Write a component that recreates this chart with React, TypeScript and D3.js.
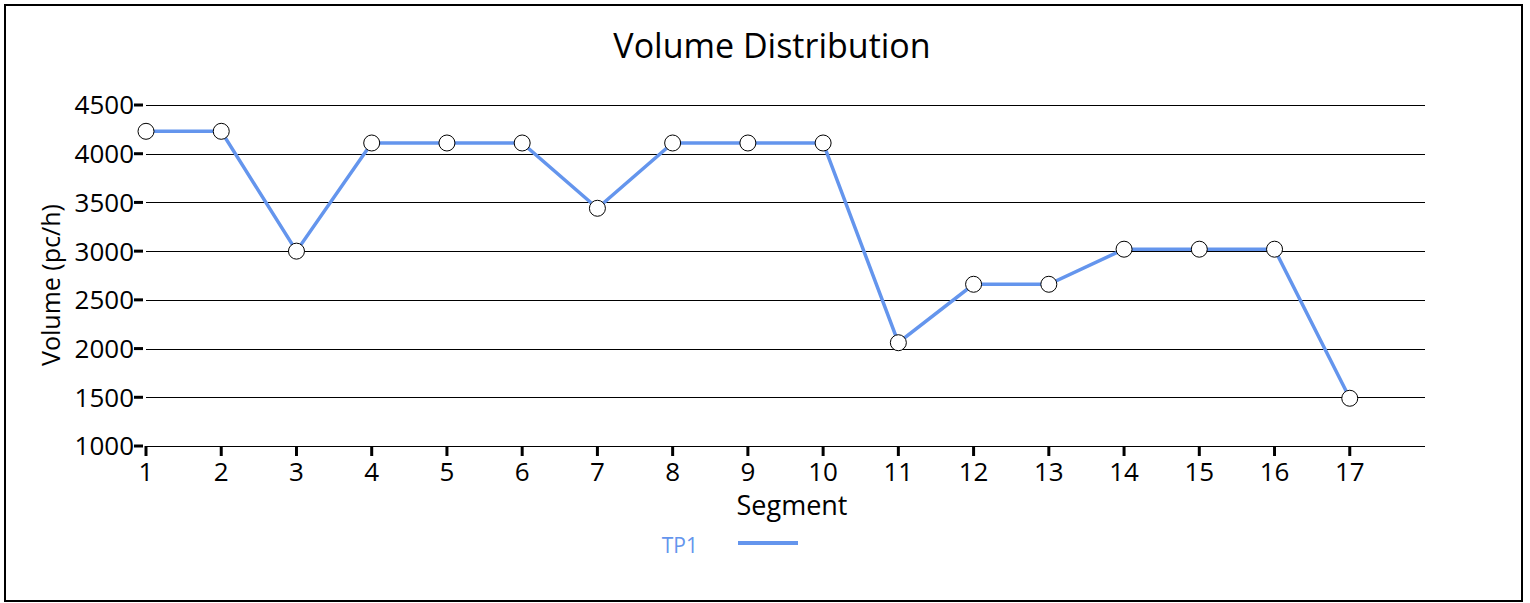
import * as d3 from "d3";

const segments = [1, 2, 3, 4, 5, 6, 7, 8, 9, 10, 11, 12, 13, 14, 15, 16, 17];
const tp1Volumes = [4230, 4230, 3000, 4110, 4110, 4110, 3440, 4110, 4110, 4110, 2060, 2660, 2660, 3020, 3020, 3020, 1490];
const yTicks = [1000, 1500, 2000, 2500, 3000, 3500, 4000, 4500];
const seriesName = "TP1";

const W = 1530;
const H = 603;
const margin = { top: 105, right: 105, bottom: 157, left: 146 };
const FONT = "'Open Sans', 'Noto Sans', sans-serif";
const BLUE = "#6495ED";

export default function App() {
  const x = d3.scaleLinear().domain([1, 18]).range([margin.left, W - margin.right]);
  const y = d3.scaleLinear().domain([1000, 4500]).range([H - margin.bottom, margin.top]);

  const line = d3
    .line<number>()
    .x((_, i) => x(segments[i]))
    .y((d) => y(d));

  const x0 = x(1);
  const x1 = x(18);
  const yBase = y(1000);

  return (
    <svg
      width={W}
      height={H}
      style={{ position: "absolute", left: 0, top: 0, fontFamily: FONT }}
    >
      <rect x={0} y={0} width={W} height={H} fill="#fff" />
      <rect x={5} y={5} width={1517} height={596} fill="none" stroke="#000" strokeWidth={2} />

      <text x={772} y={58} textAnchor="middle" fontSize={34} fill="#000">
        Volume Distribution
      </text>

      {/* grid + y ticks */}
      {yTicks.map((t) => (
        <g key={t}>
          <line x1={x0} x2={x1} y1={Math.round(y(t)) + 0.5} y2={Math.round(y(t)) + 0.5} stroke="#000" strokeWidth={1} />
          <line x1={x0 - 12} x2={x0 - 3} y1={y(t)} y2={y(t)} stroke="#000" strokeWidth={3} />
          <text x={x0 - 12} y={y(t)} dy="0.36em" textAnchor="end" fontSize={26} fill="#000">
            {t}
          </text>
        </g>
      ))}

      {/* x ticks */}
      {segments.map((s) => (
        <g key={s}>
          <line x1={x(s)} x2={x(s)} y1={yBase} y2={yBase + 10} stroke="#000" strokeWidth={3} />
          <text x={x(s)} y={yBase + 35} textAnchor="middle" fontSize={26} fill="#000">
            {s}
          </text>
        </g>
      ))}

      <text x={792} y={515} textAnchor="middle" fontSize={27} fill="#000">
        Segment
      </text>
      <text
        transform={`translate(60,285) rotate(-90)`}
        textAnchor="middle"
        fontSize={25}
        fill="#000"
      >
        Volume (pc/h)
      </text>

      <path d={line(tp1Volumes) || ""} fill="none" stroke={BLUE} strokeWidth={3.5} />
      {tp1Volumes.map((v, i) => (
        <circle key={i} cx={x(segments[i])} cy={y(v)} r={8} fill="#fff" stroke="#000" strokeWidth={1} />
      ))}

      {/* legend */}
      <text x={698} y={553} textAnchor="end" fontSize={21} fill={BLUE}>
        {seriesName}
      </text>
      <line x1={738} x2={798} y1={543} y2={543} stroke={BLUE} strokeWidth={4} />
    </svg>
  );
}
